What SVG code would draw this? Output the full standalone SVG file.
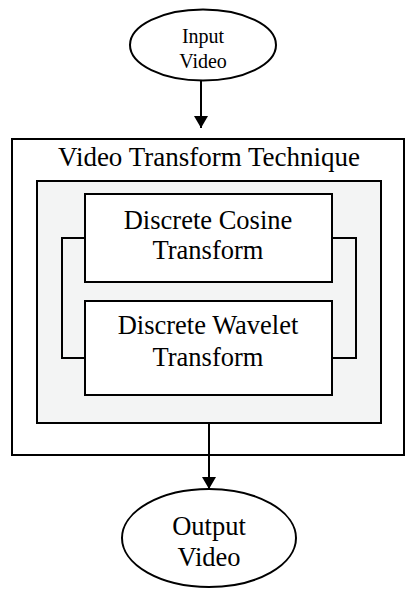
<svg xmlns="http://www.w3.org/2000/svg" width="414" height="590" viewBox="0 0 414 590">
<defs>
<marker id="ah" viewBox="0 0 12 14" refX="12" refY="7" markerWidth="12" markerHeight="14" markerUnits="userSpaceOnUse" orient="auto">
<path d="M0,0 L12,7 L0,14 Z" fill="#000"/>
</marker>
</defs>
<style>
.s{fill:none;stroke:#000;stroke-width:2}
.w{fill:#fff;stroke:#000;stroke-width:2}
.t{font-family:"Liberation Serif","Times New Roman",serif;fill:#000;text-anchor:middle}
.b{font-size:26.5px}
</style>
<rect width="414" height="590" fill="#fff"/>
<g id="outer">
<rect x="12" y="139" width="392" height="316" class="w" stroke-width="1.6"/>
<text x="209" y="166" class="t b" textLength="302" lengthAdjust="spacingAndGlyphs">Video Transform Technique</text>
</g>
<g id="inner">
<rect x="37" y="181" width="344" height="242" fill="#f3f4f4" stroke="#000" stroke-width="2"/>
</g>
<g id="connectors">
<path d="M85,238 H62 V358 H85" class="s"/>
<path d="M332,238 H356 V358 H332" class="s"/>
<line x1="201" y1="81" x2="201" y2="128" stroke="#000" stroke-width="2" marker-end="url(#ah)"/>
<line x1="209" y1="423" x2="209" y2="489" stroke="#000" stroke-width="2" marker-end="url(#ah)"/>
</g>
<g id="input">
<ellipse cx="203" cy="45" rx="73" ry="35.5" class="w"/>
<text x="203" y="43" class="t" font-size="20">Input</text>
<text x="203" y="68" class="t" font-size="20">Video</text>
</g>
<g id="dct">
<rect x="85" y="194" width="247" height="88" class="w"/>
<text x="208" y="229" class="t b">Discrete Cosine</text>
<text x="208" y="259" class="t b">Transform</text>
</g>
<g id="dwt">
<rect x="85" y="301" width="247" height="94" class="w"/>
<text x="208" y="334" class="t b">Discrete Wavelet</text>
<text x="208" y="366" class="t b">Transform</text>
</g>
<g id="output">
<ellipse cx="209" cy="538" rx="87" ry="49" class="w"/>
<text x="209" y="535" class="t b">Output</text>
<text x="209" y="566" class="t b">Video</text>
</g>
</svg>
